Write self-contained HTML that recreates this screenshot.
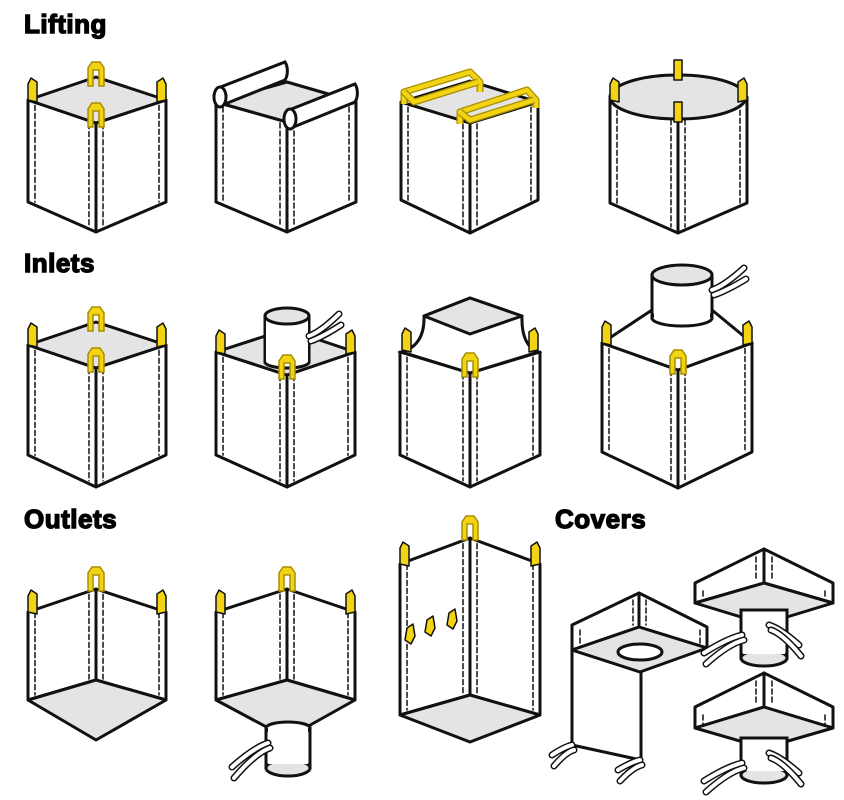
<!DOCTYPE html>
<html><head><meta charset="utf-8"><style>
html,body{margin:0;padding:0;background:#fff;width:844px;height:800px;overflow:hidden}
.t{position:absolute;font-family:"Liberation Sans",sans-serif;font-weight:bold;font-size:26px;color:#000;letter-spacing:0.5px;-webkit-text-stroke:1.4px #000}
svg{position:absolute;left:0;top:0}
</style></head><body>
<div class="t" style="left:24px;top:9px">Lifting</div>
<div class="t" style="left:24px;top:248px">Inlets</div>
<div class="t" style="left:24px;top:504px">Outlets</div>
<div class="t" style="left:555px;top:504px">Covers</div>
<svg id="s" width="844" height="800" viewBox="0 0 844 800"></svg>
<script>
const S=document.getElementById('s');let o='';
const G='#e4e4e4',Y='#f3d415',YS='#a88d00';
function poly(p,f,sw){o+=`<polygon points="${p.map(a=>a.join(',')).join(' ')}" fill="${f||'#fff'}" stroke="#111" stroke-width="${sw||3}" stroke-linejoin="round"/>`;}
function line(a,b,sw,d){o+=`<line x1="${a[0]}" y1="${a[1]}" x2="${b[0]}" y2="${b[1]}" stroke="#111" stroke-width="${sw||3}" ${d?'stroke-dasharray="5,3"':''} stroke-linecap="round"/>`;}
function ell(cx,cy,rx,ry,f){o+=`<ellipse cx="${cx}" cy="${cy}" rx="${rx}" ry="${ry}" fill="${f||'#fff'}" stroke="#111" stroke-width="3"/>`;}
function dashes(L,F,R,ts,tf,bs,bf){
 const yl=x=>ts+(tf-ts)*(x-L)/(F-L), yr=x=>tf+(ts-tf)*(x-F)/(R-F);
 const bl=x=>bs+(bf-bs)*(x-L)/(F-L), br=x=>bf+(bs-bf)*(x-F)/(R-F);
 [[L+7,yl,bl],[F-7,yl,bl],[F+7,yr,br],[R-7,yr,br]].forEach(([x,t,b])=>line([x,t(x)+3],[x,b(x)-3],1.5,1));
}
function box(L,F,R,ts,tf,bs,bf,top){
 poly([[L,ts],[F,tf],[F,bf],[L,bs]]);poly([[F,tf],[R,ts],[R,bs],[F,bf]]);
 dashes(L,F,R,ts,tf,bs,bf);
 if(top)poly([[L,ts],[F,2*ts-tf],[R,ts],[F,tf]],G);
}
function tab(x,y,dir){poly([[x,y],[x,y-16],[x+dir*3,y-22],[x+dir*9,y-18],[x+dir*9,y+2]],Y,1.5);}
function uloop(x,y){
 o+=`<path d="M${x-8},${y+4} L${x-8},${y-14} L${x-4},${y-20} L${x+4},${y-20} L${x+8},${y-14} L${x+8},${y+4} L${x+3},${y+4} L${x+3},${y-12} L${x-3},${y-12} L${x-3},${y+4} Z" fill="${Y}" stroke="${YS}" stroke-width="1.5"/>`;
}
function band(d){o+=`<path d="${d}" fill="none" stroke="#111" stroke-width="7" stroke-linecap="round"/><path d="${d}" fill="none" stroke="#fff" stroke-width="4" stroke-linecap="round"/>`;}
function strap(x,y,dx,dy){band(`M${x},${y} q${dx*0.4},${dy*0.2} ${dx},${dy}`);band(`M${x+2},${y+5} q${dx*0.4},${dy*0.2} ${dx},${dy+6}`);}
function yframe(d){o+=`<path d="${d}" fill="none" stroke="${YS}" stroke-width="7" stroke-linejoin="round"/><path d="${d}" fill="none" stroke="${Y}" stroke-width="4.5" stroke-linejoin="round"/>`;}

// Row 1
box(28,96,166,100,123,202,232,1);tab(28,100,1);tab(166,100,-1);uloop(96,82);uloop(96,123);
box(216,287,356,102,122,202,232,1);
o+=`<path d="M218,88 L285,62 A7,12 0 0 1 285,80 L220,106 Z" fill="#fff" stroke="#111" stroke-width="3"/>`;ell(220,97,6,10);
o+=`<path d="M289,110 L355,84 A7,12 0 0 1 355,102 L291,128 Z" fill="#fff" stroke="#111" stroke-width="3"/>`;ell(290,119,6,10);
box(401,470,538,102,123,200,233,1);
yframe("M404,104 L404,92 L470,72 L480,82 L480,92");yframe("M404,92 L414,102 L478,82");
yframe("M460,124 L460,112 L527,90 L536,100 L536,108");yframe("M460,112 L470,120 L534,100");
poly([[610,97],[610,203],[678,233],[678,119]]);poly([[678,119],[747,97],[747,203],[678,233]]);
dashes(610,678,747,97,119,203,233);ell(678,97,68,22,G);
tab(610,100,1);tab(747,100,-1);
poly([[674,60],[674,80],[682,80],[682,60]],Y,1.5);poly([[674,102],[674,122],[682,122],[682,102]],Y,1.5);

// Row 2
box(28,96,166,345,368,455,487,1);tab(28,345,1);tab(166,345,-1);uloop(96,327);uloop(96,368);
box(216,287,355,352,375,455,487,1);tab(216,352,1);tab(355,352,-1);
o+=`<rect x="265" y="316" width="44" height="46" fill="#fff" stroke="#111" stroke-width="3"/>`;ell(287,362,22,6);
o+=`<rect x="266" y="318" width="42" height="44" fill="#fff"/>`;ell(287,316,22,8,G);
strap(309,336,30,-22);uloop(287,375);
box(400,470,540,352,373,455,487,0);
o+=`<path d="M402,352 Q425,345 424,316 L470,298 L522,316 Q521,345 538,352 L470,373 Z" fill="#fff" stroke="#111" stroke-width="3"/>`;
poly([[424,316],[470,298],[522,316],[470,334]],G);
tab(402,350,1);tab(538,350,-1);uloop(470,373);
box(602,678,752,343,370,452,488,0);
poly([[602,343],[652,310],[712,310],[752,343],[678,370]]);
o+=`<rect x="652" y="275" width="60" height="43" fill="#fff" stroke="#111" stroke-width="3"/>`;ell(682,318,30,8);
o+=`<rect x="654" y="277" width="56" height="41" fill="#fff"/>`;ell(682,275,30,10,G);
strap(712,290,32,-22);tab(602,343,1);tab(752,343,-1);uloop(678,370);

// Row 3
function outlet(L,F,R,ts,tf,bs,bf,bb){
 poly([[L,ts],[F,tf],[F,bf],[L,bs]]);poly([[F,tf],[R,ts],[R,bs],[F,bf]]);
 dashes(L,F,R,ts,tf,bs,bf);poly([[L,bs],[F,bf],[R,bs],[F,bb]],G);
 tab(L,ts,1);tab(R,ts,-1);uloop(F,tf-2);
}
outlet(28,96,166,612,589,700,680,740);
outlet(216,287,355,612,589,700,680,738);
o+=`<rect x="266" y="728" width="44" height="40" fill="#fff" stroke="#111" stroke-width="3"/>`;ell(288,768,22,8,G);
ell(288,728,22,6,'#fff');o+=`<rect x="268" y="729" width="40" height="35" fill="#fff"/>`;strap(268,743,-36,24);
outlet(400,470,540,564,538,715,695,742);
[[405,640],[425,632],[447,625]].forEach(([x,y])=>poly([[x,y],[x+2,y-12],[x+8,y-16],[x+10,y-4],[x+6,y+4]],Y,1.5));

// Covers
poly([[572,625],[639,593],[639,627],[572,650]]);poly([[639,593],[707,627],[707,648],[639,627]]);
line([580,630],[580,645],1.5,1);line([633,600],[633,625],1.5,1);line([646,600],[646,625],1.5,1);line([700,630],[700,645],1.5,1);
poly([[572,650],[572,745],[641,760],[641,672]]);
poly([[572,650],[639,627],[707,648],[640,672]],G);ell(640,652,22,8,'#fff');
strap(572,745,-20,10);strap(640,760,-22,10);
function cover(bk,L,R,ty,ly,by,fy,cy1,cy2){
 poly([[L,ly],[bk,ty],[bk,ty+34],[L,by]]);poly([[bk,ty],[R,ly],[R,by],[bk,ty+34]]);
 line([L+8,ly+8],[L+8,by-4],1.5,1);line([bk-8,ty+8],[bk-8,ty+30],1.5,1);line([bk+8,ty+8],[bk+8,ty+30],1.5,1);line([R-8,ly+8],[R-8,by-4],1.5,1);
 poly([[L,by],[bk,ty+34],[R,by],[bk,fy]],G);
 o+=`<rect x="${bk-23}" y="${cy1}" width="46" height="${cy2-cy1}" fill="#fff" stroke="#111" stroke-width="3"/>`;ell(bk,cy2,23,8,G);
 o+=`<rect x="${bk-21}" y="${cy1+2}" width="42" height="${cy2-cy1-6}" fill="#fff"/>`;
 strap(bk-22,cy1+25,-38,18);strap(bk+5,cy1+15,30,20);
}
cover(764,695,833,549,583,603,624,610,658);
cover(764,695,833,673,707,728,748,738,775);
S.innerHTML=o;
</script>
</body></html>
